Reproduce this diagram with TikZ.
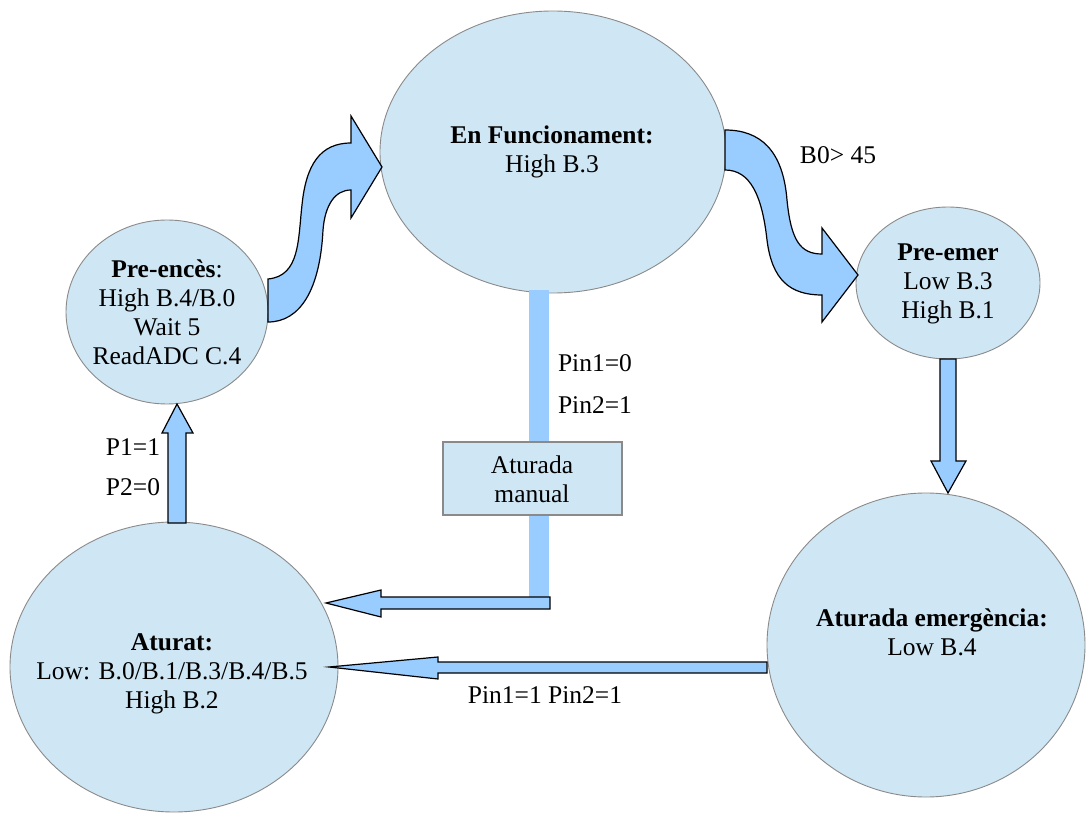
\documentclass[tikz,border=0pt]{standalone}
\usepackage{fontspec}
\setmainfont{Liberation Serif}
\usetikzlibrary{shapes.geometric}
\definecolor{ellfill}{HTML}{CFE6F4}
\definecolor{ellline}{HTML}{8A8A8A}
\definecolor{arrfill}{HTML}{99CCFF}
\tikzset{
  state/.style={ellipse, draw=ellline, fill=ellfill, line width=0.9pt, inner sep=0pt},
  stateboxx/.style={rectangle, draw=ellline, fill=ellfill, line width=1.1pt, inner sep=0pt},
  txt/.style={align=center, inner sep=0pt, font=\fontsize{25.5}{29}\selectfont},
  blockarrow/.style={fill=arrfill, draw=black, line width=1.2pt, line join=miter},
}
\begin{document}
\begin{tikzpicture}[x=1pt,y=-1pt]
\useasboundingbox (0,0) rectangle (1088,818);
% states
\node[state, minimum width=346pt, minimum height=282pt] (fun) at (553,152) {};
\node[state, minimum width=202pt, minimum height=184pt] (pre) at (167,312) {};
\node[state, minimum width=184pt, minimum height=152pt] (preemer) at (948,283) {};
\node[state, minimum width=328pt, minimum height=290pt] (aturat) at (174,667) {};
\node[state, minimum width=318pt, minimum height=304pt] (emerg) at (926,645) {};
% manual stop bar and box
\coordinate (barTop) at (539,290);
\coordinate (barBot) at (539,598);
\draw[arrfill, line width=20pt] (barTop) -- (barBot);
\node[stateboxx, minimum width=179pt, minimum height=73pt] (manual) at (532.5,478.5) {};
% block arrows
\draw[blockarrow] (268,279) .. controls (300,276) and (298,240) .. (302,205)
  .. controls (306,165) and (320,143) .. (351,143) -- (351,116) -- (382,167)
  -- (351,218) -- (351,190) .. controls (335,190) and (325,205) .. (323,230)
  .. controls (320,290) and (300,322) .. (268,322) -- cycle;
\draw[blockarrow] (725,130) .. controls (760,130) and (783,150) .. (787,200)
  .. controls (791,240) and (800,254) .. (822,254) -- (822,228) -- (858,275)
  -- (822,322) -- (822,295) .. controls (790,295) and (772,280) .. (767,240)
  .. controls (762,195) and (750,170) .. (725,170) -- cycle;
\draw[blockarrow] (940,359) -- (940,461) -- (931,461) -- (948,493) -- (966,461) -- (956,461) -- (956,359) -- cycle;
\draw[blockarrow] (767,662) -- (438,662) -- (438,657) -- (329,667) -- (438,679) -- (438,673) -- (767,673) -- cycle;
\draw[blockarrow] (550,597) -- (381,597) -- (381,590) -- (326,603) -- (381,617) -- (381,609) -- (550,609) -- cycle;
\draw[blockarrow] (168,523) -- (168,433) -- (162,433) -- (177,404) -- (193,433) -- (186,433) -- (186,523) -- cycle;
% texts
\node[txt] (funtxt) at (552,152) {\textbf{En Funcionament:}\\High B.3};
\node[txt] (pretxt) at (167,312) {\textbf{Pre-encès}:\\High B.4/B.0\\Wait 5\\ReadADC C.4};
\node[txt] (preemertxt) at (948,284) {\textbf{Pre-emer}\\Low B.3\\High B.1};
\node[txt] (aturattxt) at (172,674) {\textbf{Aturat:}\\Low: B.0/B.1/B.3/B.4/B.5\\High B.2};
\node[txt] (emergtxt) at (932,632) {\textbf{Aturada emergència:}\\Low B.4};
\node[txt] (manualtxt) at (532,479) {Aturada\\manual};
\node[txt] (l1) at (838,155) {B0> 45};
\node[txt] (l2) at (595,363) {Pin1=0};
\node[txt] (l3) at (595,405) {Pin2=1};
\node[txt] (l4) at (133,447) {P1=1};
\node[txt] (l5) at (133,487) {P2=0};
\node[txt] (l6) at (545,695) {Pin1=1 Pin2=1};
\end{tikzpicture}
\end{document}
